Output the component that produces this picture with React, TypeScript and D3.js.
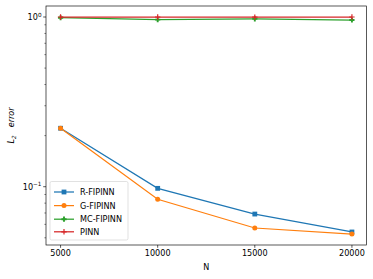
import React, { useEffect, useRef } from 'react';
import * as d3 from 'd3';

const Ns = [5000, 10000, 15000, 20000];
const rFipinn = [0.221, 0.0978, 0.069, 0.0541];
const gFipinn = [0.221, 0.0843, 0.0571, 0.0526];
const mcFipinn = [0.99, 0.965, 0.975, 0.96];
const pinn = [1.0, 1.0, 0.998, 1.0];
const xTicks = [5000, 10000, 15000, 20000];

const series = [
  { name: 'R-FIPINN', values: rFipinn, color: '#1f77b4', marker: 'square' },
  { name: 'G-FIPINN', values: gFipinn, color: '#ff7f0e', marker: 'circle' },
  { name: 'MC-FIPINN', values: mcFipinn, color: '#2ca02c', marker: 'plusFilled' },
  { name: 'PINN', values: pinn, color: '#d62728', marker: 'plus' },
];

const App = () => {
  const ref = useRef<SVGSVGElement>(null);

  useEffect(() => {
    const svg = d3.select(ref.current);
    svg.selectAll('*').remove();
    const left = 46, right = 366.5, top = 6, bottom = 245;
    const font = 'DejaVu Sans, sans-serif';

    const x = d3.scaleLinear().domain([5000 - 750, 20000 + 750]).range([left, right]);
    const y = d3.scaleLog().domain([0.04534, 1.161]).range([bottom, top]);

    const g = svg.append('g');

    // x ticks
    xTicks.forEach(t => {
      g.append('line').attr('x1', x(t)).attr('x2', x(t)).attr('y1', bottom).attr('y2', bottom + 2.8)
        .attr('stroke', '#000').attr('stroke-width', 0.65);
      g.append('text').attr('x', x(t)).attr('y', bottom + 11).attr('text-anchor', 'middle')
        .attr('font-family', font).attr('font-size', 8.1).text(t);
    });

    // y ticks (log)
    const majors = [0.1, 1];
    majors.forEach((t, i) => {
      g.append('line').attr('x1', left).attr('x2', left - 2.8).attr('y1', y(t)).attr('y2', y(t))
        .attr('stroke', '#000').attr('stroke-width', 0.65);
      const txt = g.append('text').attr('x', left - 4.5).attr('y', y(t) + 3).attr('text-anchor', 'end')
        .attr('font-family', font).attr('font-size', 8.1);
      txt.append('tspan').text('10');
      txt.append('tspan').attr('dy', -3.5).attr('font-size', 5.7).text(i === 0 ? '\u22121' : '0');
    });
    const minors: number[] = [];
    [0.01, 0.1].forEach(d => { for (let k = 2; k <= 9; k++) minors.push(k * d); });
    minors.filter(v => v >= 0.04534 && v <= 1.161).forEach(t => {
      g.append('line').attr('x1', left).attr('x2', left - 1.6).attr('y1', y(t)).attr('y2', y(t))
        .attr('stroke', '#000').attr('stroke-width', 0.5);
    });

    // lines and markers
    const line = d3.line<number>().x((d, i) => x(Ns[i])).y(d => y(d));
    const drawMarker = (sel: any, cx: number, cy: number, s: any, scale = 1) => {
      const c = s.color;
      if (s.marker === 'square') {
        const h = 2.4 * scale;
        sel.append('rect').attr('x', cx - h).attr('y', cy - h).attr('width', 2 * h).attr('height', 2 * h).attr('fill', c);
      } else if (s.marker === 'circle') {
        sel.append('circle').attr('cx', cx).attr('cy', cy).attr('r', 2.5 * scale).attr('fill', c);
      } else if (s.marker === 'plusFilled') {
        const a = 2.6 * scale, b = 0.95 * scale;
        sel.append('path').attr('d', `M${cx - b},${cy - a}H${cx + b}V${cy - b}H${cx + a}V${cy + b}H${cx + b}V${cy + a}H${cx - b}V${cy + b}H${cx - a}V${cy - b}H${cx - b}Z`).attr('fill', c);
      } else {
        const a = 2.7 * scale;
        sel.append('path').attr('d', `M${cx - a},${cy}H${cx + a}M${cx},${cy - a}V${cy + a}`)
          .attr('stroke', c).attr('stroke-width', 1.2).attr('fill', 'none');
      }
    };

    series.forEach(s => {
      g.append('path').attr('d', line(s.values) as string).attr('fill', 'none')
        .attr('stroke', s.color).attr('stroke-width', 1.25);
      s.values.forEach((v, i) => drawMarker(g, x(Ns[i]), y(v), s));
    });

    // axes frame
    g.append('rect').attr('x', left).attr('y', top).attr('width', right - left).attr('height', bottom - top)
      .attr('fill', 'none').attr('stroke', '#000').attr('stroke-width', 0.65);

    // axis labels
    g.append('text').attr('x', (left + right) / 2).attr('y', 270).attr('text-anchor', 'middle')
      .attr('font-family', font).attr('font-size', 8.1).text('N');
    const yl = g.append('text').attr('transform', `translate(14,${(top + bottom) / 2}) rotate(-90)`)
      .attr('text-anchor', 'middle').attr('font-family', font).attr('font-size', 8.1).attr('font-style', 'italic');
    yl.append('tspan').text('L');
    yl.append('tspan').attr('dy', 2).attr('font-size', 5.7).text('2');
    yl.append('tspan').attr('dy', -2).text('\u2002\u2002error');

    // legend
    const lx = 50, ly = 181.5, lw = 78, lh = 58.5;
    g.append('rect').attr('x', lx).attr('y', ly).attr('width', lw).attr('height', lh).attr('rx', 1.6)
      .attr('fill', '#fff').attr('fill-opacity', 0.8).attr('stroke', '#d0d0d0').attr('stroke-width', 0.65);
    const rowY = [192, 205.6, 219.2, 231.8];
    series.forEach((s, i) => {
      const cy = rowY[i];
      g.append('line').attr('x1', 54).attr('x2', 74).attr('y1', cy).attr('y2', cy)
        .attr('stroke', s.color).attr('stroke-width', 1.25);
      drawMarker(g, 64, cy, s);
      g.append('text').attr('x', 80).attr('y', cy + 3).attr('font-family', font).attr('font-size', 8.1).text(s.name);
    });
  }, []);

  return (
    <svg ref={ref} width={373} height={279} style={{ position: 'absolute', left: 0, top: 0, background: '#fff' }} />
  );
};

export default App;
